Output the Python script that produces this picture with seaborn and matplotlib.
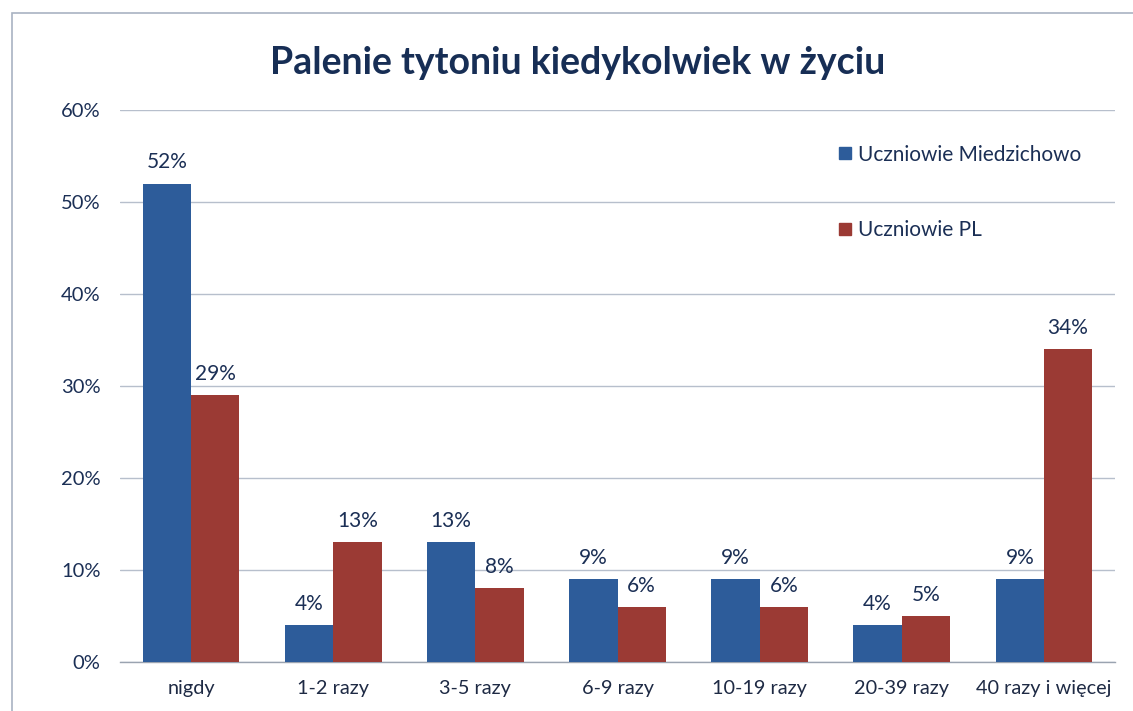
import matplotlib
matplotlib.use("Agg")
import matplotlib.pyplot as plt
from matplotlib.patches import Rectangle
from matplotlib.lines import Line2D
from matplotlib.ticker import FuncFormatter
import seaborn as sns
import pandas as pd

categories = ["nigdy", "1-2 razy", "3-5 razy", "6-9 razy", "10-19 razy",
              "20-39 razy", "40 razy i więcej"]
series_names = ["Uczniowie Miedzichowo", "Uczniowie PL"]
miedzichowo = [52, 4, 13, 9, 9, 4, 9]
pl = [29, 13, 8, 6, 6, 5, 34]
y_ticks = [0, 10, 20, 30, 40, 50, 60]

colors = ["#2D5C9A", "#9B3A34"]
navy = "#1B2F55"

df = pd.DataFrame({
    "kategoria": categories * 2,
    "grupa": [series_names[0]] * len(categories) + [series_names[1]] * len(categories),
    "procent": miedzichowo + pl,
})

sns.set_theme(style="white")
plt.rcParams["font.family"] = ["Lato", "DejaVu Sans"]

fig = plt.figure(figsize=(11.33, 7.11), dpi=100)
ax = fig.add_axes([120 / 1133, 1 - 662 / 711, (1115 - 120) / 1133, (662 - 110) / 711])

sns.barplot(data=df, x="kategoria", y="procent", hue="grupa", order=categories,
            hue_order=series_names, palette=colors, width=0.68, saturation=1,
            linewidth=0, ax=ax, legend=False, zorder=3)

ax.set_ylim(0, 60)
ax.set_yticks(y_ticks)
ax.yaxis.set_major_formatter(FuncFormatter(lambda v, _: f"{v:.0f}%"))
ax.grid(axis="y", color="#B7BFCC", linewidth=1.0, zorder=0)
ax.set_axisbelow(True)
for s in ["left", "right", "top"]:
    ax.spines[s].set_visible(False)
ax.spines["bottom"].set_color("#9AA3B0")
ax.spines["bottom"].set_linewidth(1.0)
ax.set_xlabel("")
ax.set_ylabel("")
ax.tick_params(axis="y", length=0, pad=14, labelsize=14.5, labelcolor=navy)
ax.tick_params(axis="x", length=0, pad=13, labelsize=14.3, labelcolor="#1E2A44")

for container, vals in zip(ax.containers, [miedzichowo, pl]):
    ax.bar_label(container, labels=[f"{v}%" for v in vals], padding=8,
                 fontsize=15, color=navy)

handles = [Line2D([], [], marker="s", linestyle="", markersize=9,
                  markerfacecolor=c, markeredgecolor=c) for c in colors]
fig.legend(handles, series_names, loc="upper left",
           bbox_to_anchor=(817 / 1133, 1 - 126 / 711), frameon=False,
           fontsize=15, labelspacing=2.65, handletextpad=0.15,
           handlelength=0.9, labelcolor=navy)

fig.text(0.51, 1 - 63 / 711, "Palenie tytoniu kiedykolwiek w życiu",
         ha="center", va="center", fontsize=27, fontweight="bold", color="#172E55")

fig.patches.append(Rectangle((12 / 1133, -0.1), 1.2, 1 - 13 / 711 + 0.1,
                             transform=fig.transFigure, fill=False,
                             edgecolor="#A9B3C2", linewidth=1.2))

fig.savefig("out.png", dpi=100, facecolor="white")
